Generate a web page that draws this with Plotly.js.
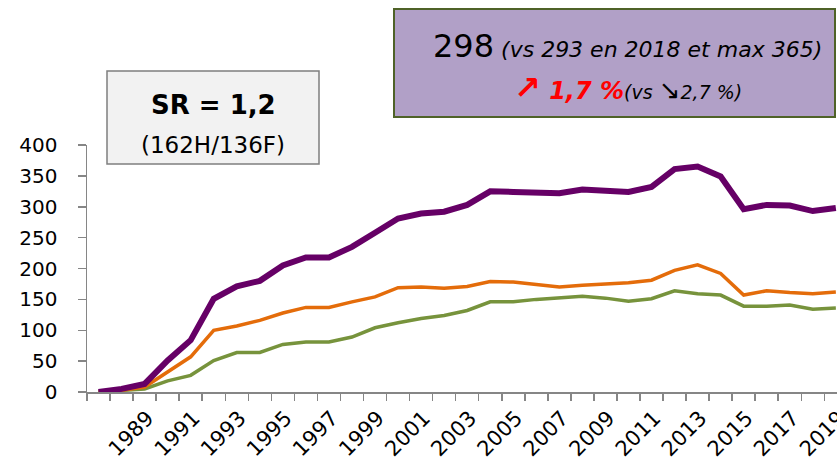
<!DOCTYPE html>
<html>
<head>
<meta charset="utf-8">
<script src="https://cdn.plot.ly/plotly-3.0.1.min.js"></script>
<style>html,body{margin:0;padding:0;background:#fff;}#chart{width:837px;height:466px;}</style>
</head>
<body>
<div id="chart"></div>
<script>
// Data
const years = [1987,1988,1989,1990,1991,1992,1993,1994,1995,1996,1997,1998,1999,2000,2001,2002,2003,2004,2005,2006,2007,2008,2009,2010,2011,2012,2013,2014,2015,2016,2017,2018,2019];
const total = [0,5,13,51,84,151,171,180,205,218,218,235,258,281,289,292,303,325,324,324,322,328,327,324,332,361,365,349,296,303,302,293,298];
const hommes = [0,3,8,33,57,100,107,116,128,137,137,146,154,169,170,168,171,179,178,174,170,173,175,177,181,197,206,192,157,164,161,159,162];
const femmes = [0,2,5,18,27,51,64,64,77,81,81,89,104,112,119,124,132,146,146,150,152,155,152,147,151,164,159,157,139,139,141,134,136];
const labelYears = [1989,1991,1993,1995,1997,1999,2001,2003,2005,2007,2009,2011,2013,2015,2017,2019];
const labelText = labelYears.map(String);

// Pixel helpers for boxes (plot area: left 87, right 837, top 145, bottom 392)
const L = 87, R = 0, T = 145, B = 74, W = 837, H = 466;
const pw = W - L - R, ph = H - T - B;
const px = x => (x - L) / pw;
const py = y => (H - B - y) / ph;

const traces = [
  {x: years, y: femmes, type: 'scatter', mode: 'lines', line: {color: '#77933C', width: 3.5}, name: 'F'},
  {x: years, y: hommes, type: 'scatter', mode: 'lines', line: {color: '#E46C0A', width: 3.5}, name: 'H'},
  {x: years, y: total, type: 'scatter', mode: 'lines', line: {color: '#660066', width: 6}, name: 'Total'}
];

const layout = {
  width: W, height: H,
  margin: {l: L, r: R, t: T, b: B, pad: 0},
  paper_bgcolor: '#ffffff', plot_bgcolor: '#ffffff',
  showlegend: false,
  xaxis: {
    range: [1986.5, 2019.05],
    tickmode: 'array', tickvals: labelYears, ticktext: labelText,
    ticks: '', tickangle: -45,
    ticklabeloverflow: 'allow',
    ticklabelstandoff: 4, ticklabelshift: 3,
    showline: true, linecolor: '#868686', linewidth: 1.5,
    showgrid: false, zeroline: false,
    tickfont: {family: 'DejaVu Sans', size: 21, color: '#000'},
    minor: {tickmode: 'linear', tick0: 1986.5, dtick: 1, ticks: 'outside', ticklen: 7, tickcolor: '#868686', tickwidth: 1.5, showgrid: false}
  },
  yaxis: {
    range: [0, 400], tickmode: 'linear', tick0: 0, dtick: 50,
    ticks: 'outside', ticklen: 8, tickcolor: '#868686', tickwidth: 1.5,
    showline: true, linecolor: '#868686', linewidth: 1.5,
    showgrid: false, zeroline: false,
    ticklabelstandoff: 16,
    tickfont: {family: 'DejaVu Sans', size: 20, color: '#000'}
  },
  shapes: [
    {type: 'rect', xref: 'paper', yref: 'paper', x0: px(107), x1: px(319), y0: py(164), y1: py(71),
     fillcolor: '#F2F2F2', line: {color: '#7F7F7F', width: 1.5}, layer: 'above'},
    {type: 'rect', xref: 'paper', yref: 'paper', x0: px(394), x1: px(835), y0: py(117), y1: py(9),
     fillcolor: '#B1A0C7', line: {color: '#4F6228', width: 2}, layer: 'above'}
  ],
  annotations: [
    {xref: 'paper', yref: 'paper', x: px(213), y: py(105), xanchor: 'center', yanchor: 'middle', showarrow: false,
     text: '<b>SR = 1,2</b>', font: {family: 'DejaVu Sans', size: 26, color: '#000'}},
    {xref: 'paper', yref: 'paper', x: px(213), y: py(145), xanchor: 'center', yanchor: 'middle', showarrow: false,
     text: '(162H/136F)', font: {family: 'DejaVu Sans', size: 23, color: '#000'}},
    {xref: 'paper', yref: 'paper', x: px(627), y: py(46), xanchor: 'center', yanchor: 'middle', showarrow: false,
     text: '298<i><span style="font-size:22px"> (vs 293 en 2018 et max 365)</span></i>', font: {family: 'DejaVu Sans', size: 32, color: '#000'}},
    {xref: 'paper', yref: 'paper', x: px(628), y: py(88), xanchor: 'center', yanchor: 'middle', showarrow: false,
     text: '<span style="color:#FF0000"><b><span style="font-size:32px">↗</span><i> 1,7 %</i></b></span><i><span style="font-size:19px">(vs <span style="font-size:26px">↘</span>2,7 %)</span></i>', font: {family: 'DejaVu Sans', size: 24, color: '#000'}}
  ]
};

Plotly.newPlot('chart', traces, layout, {displayModeBar: false, staticPlot: true});
</script>
</body>
</html>
